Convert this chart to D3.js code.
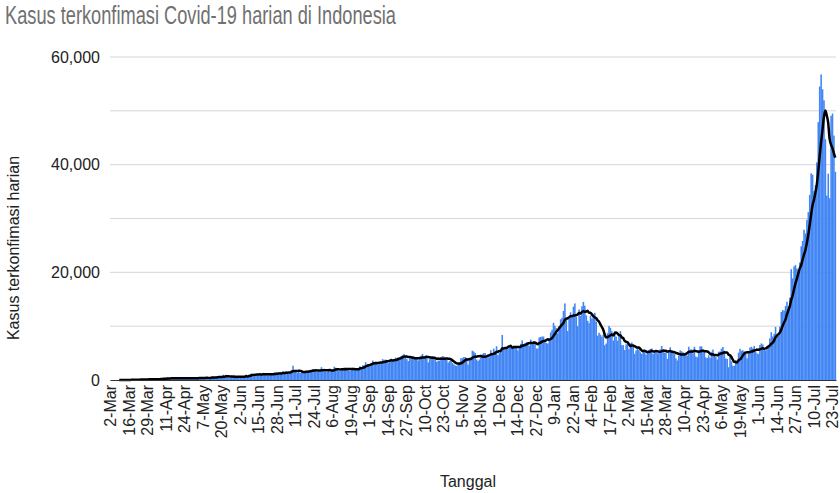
<!DOCTYPE html>
<html><head><meta charset="utf-8">
<script src="https://cdn.jsdelivr.net/npm/d3@7"></script>
<style>
html,body{margin:0;padding:0;background:#fff;}
svg{display:block;font-family:"Liberation Sans",Arial,sans-serif;}
</style></head>
<body><div id="chart"></div>
<script>
// Daily confirmed cases, 2 Mar 2020 – 25 Jul 2021 (one early-March date absent in source table)
const mar2020 = [2,0,0,0,2,0,2,13,8,7,35,27,21,17,38,55,82,60,81,64,65,107,104,103,153,109,130,129,114];
const apr2020 = [149,113,196,106,181,218,247,218,337,219,330,399,316,282,297,380,407,325,327,185,375,283,357,436,396,275,214,415,260,347];
const may2020 = [433,292,349,395,484,367,338,336,533,387,233,484,689,568,490,529,489,496,486,693,973,634,949,526,479,415,686,687,678,557,700];
const jun2020 = [467,609,684,585,703,993,672,847,1043,1241,979,1111,1014,857,1017,1106,1031,1331,1041,1226,862,954,1051,1113,1178,1385,1385,1198,1082,1293];
const jul2020 = [1048,1624,1447,1607,1447,1209,1268,1853,2657,1611,1671,1282,1591,1282,1522,1574,1462,1752,1639,1693,1655,1882,2040,1761,1868,1492,1525,1748,2381,1904,2040];
const aug2020 = [1560,1519,1679,1922,1815,1882,2473,2277,1893,1687,1693,1942,2098,2307,2345,2081,1821,1673,1902,2266,2197,2037,2079,1877,2549,2306,2719,2719,3308,2858,2743];
const sep2020 = [2775,3075,3622,3269,3444,3128,2880,3046,3307,3861,3737,3806,3636,3141,3507,3963,3635,3891,4168,3989,4176,4071,4465,4634,4823,4494,3874,3509,4002,4284];
const oct2020 = [4174,4317,4007,3992,3622,4056,4538,4850,4094,4497,4497,3267,3906,4127,4411,4301,4105,3373,3602,3602,4267,4432,4369,4070,3732,3222,3520,3565,3143,2897,2696];
const nov2020 = [2618,2973,3356,4065,4065,4262,4262,3880,2853,3779,4173,5444,5272,4998,3807,3535,3807,4265,4792,4998,4998,4360,4442,4192,5534,4917,5828,5418,6267,4617];
const dec2020 = [5092,5533,8369,5803,6027,6089,5754,6058,6310,6033,6388,6310,6189,5489,6120,6725,7354,6689,6848,6982,6848,6347,7514,6809,7203,6982,5854,5854,7903,8002,8074];
const jan2021 = [8072,7203,6877,6753,7445,8854,9321,10617,10046,9640,8692,10047,11278,11557,12818,14224,11287,9086,11365,12568,11703,13632,14224,11788,9994,13094,11948,13695,14518,13802,12001];
const feb2021 = [10994,10565,11984,11434,12156,12482,10827,8242,8776,8435,8054,8435,6462,6765,8700,10029,9687,9039,7335,9039,8054,7300,8180,9094,6473,6473,5560,6614];
const mar2021 = [6680,5712,6808,6971,6412,4854,5498,6008,5633,5144,4853,5633,5262,4714,5199,5589,5767,5852,4834,5228,5212,4982,4977,5694,6304,5753,5108,5114,3927,5467,6070];
const apr2021 = [5464,5390,4793,4022,3634,4549,5511,5336,5154,5014,4829,4541,6177,5656,5690,4952,6177,4355,4230,5549,6243,6243,5436,5436,4194,4071,4585,4143,5241,5657];
const may2021 = [4512,4281,3807,5251,5285,5814,6133,5427,3982,3922,2385,4608,3448,2633,2642,3680,3480,5080,5797,5426,5523,5296,4988,4007,5014,6001,6174,5868,6326,5190,4941];
const jun2021 = [4824,6486,6797,6594,5874,5519,6051,6294,7725,8892,8083,8569,9868,8189,8161,9944,12624,12990,12906,13737,14536,13668,15308,20574,18872,21095,21342,20694,20467,21807];
const jul2021 = [24836,25830,27913,27233,29745,31189,34379,38391,38124,35094,36197,40427,47899,54517,56757,54000,51952,44721,34257,38325,33772,49071,49509,45416,38679];

// x tick labels, one every 13 categories
const tickLabels = ["2-Mar","16-Mar","29-Mar","11-Apr","24-Apr","7-May","20-May","2-Jun","15-Jun","28-Jun","11-Jul","24-Jul","6-Aug","19-Aug","1-Sep","14-Sep","27-Sep","10-Oct","23-Oct","5-Nov","18-Nov","1-Dec","14-Dec","27-Dec","9-Jan","22-Jan","4-Feb","17-Feb","2-Mar","15-Mar","28-Mar","10-Apr","23-Apr","6-May","19-May","1-Jun","14-Jun","27-Jun","10-Jul","23-Jul"];
const yTicks = [0,20000,40000,60000];
const yGrid = [10000,20000,30000,40000,50000,60000];

const cases = [].concat(mar2020,apr2020,may2020,jun2020,jul2020,aug2020,sep2020,oct2020,nov2020,dec2020,jan2021,feb2021,mar2021,apr2021,may2021,jun2021,jul2021);
// 7-day moving average trendline
const ma = cases.map((v,i)=> i<6 ? null : d3.mean(cases.slice(i-6,i+1)));

const W=840,H=493, L=110, R=836, T=57, B=380;
const svg = d3.select("#chart").append("svg").attr("width",W).attr("height",H);

const x = d3.scaleBand().domain(d3.range(cases.length)).range([L,R]).padding(0);
const y = d3.scaleLinear().domain([0,60000]).range([B,T]);

// title
svg.append("text").attr("x",5).attr("y",24).attr("font-size",25).attr("fill","#707070")
  .attr("textLength",391).attr("lengthAdjust","spacingAndGlyphs")
  .text("Kasus terkonfimasi Covid-19 harian di Indonesia");

// grid
svg.append("g").selectAll("line").data(yGrid).join("line")
  .attr("x1",L).attr("x2",R).attr("y1",d=>y(d)).attr("y2",d=>y(d))
  .attr("stroke","#d6d6d6").attr("stroke-width",1);

// y axis labels
const yAxis = d3.axisLeft(y).tickValues(yTicks).tickFormat(d3.format(",")).tickSize(0).tickPadding(10);
const gy = svg.append("g").attr("transform",`translate(${L},0)`).call(yAxis);
gy.select(".domain").remove();
gy.selectAll("text").attr("font-size",16).attr("fill","#222").attr("font-family","Liberation Sans, Arial, sans-serif");

// bars
svg.append("g").selectAll("rect").data(cases).join("rect")
  .attr("x",(d,i)=>x(i)).attr("width",x.bandwidth()+0.15)
  .attr("y",d=>y(d)).attr("height",d=>B-y(d))
  .attr("fill","#4285f4");

// moving average line
const line = d3.line().defined(d=>d!==null).x((d,i)=>x(i)+x.bandwidth()/2).y(d=>y(d)).curve(d3.curveMonotoneX);
svg.append("path").datum(ma).attr("d",line).attr("fill","none").attr("stroke","#000").attr("stroke-width",2.5).attr("stroke-linejoin","round");

// x axis
const tickIdx = tickLabels.map((t,i)=>i*13);
const xAxis = d3.axisBottom(x).tickValues(tickIdx).tickFormat((d,i)=>tickLabels[i]).tickSize(0).tickPadding(0);
const gx = svg.append("g").attr("transform",`translate(0,${B})`).call(xAxis);
gx.select(".domain").attr("stroke","#333").attr("stroke-width",1.2);
gx.selectAll("text").attr("font-size",16).attr("fill","#222").attr("font-family","Liberation Sans, Arial, sans-serif")
  .attr("text-anchor","end").attr("transform","translate(0,5) rotate(-90)").attr("x",0).attr("y",0).attr("dy","0.35em");

// axis titles
svg.append("text").attr("transform",`translate(19,248) rotate(-90)`).attr("text-anchor","middle")
  .attr("font-size",16).attr("fill","#222").text("Kasus terkonfimasi harian");
svg.append("text").attr("x",468).attr("y",487).attr("text-anchor","middle")
  .attr("font-size",16).attr("fill","#222").text("Tanggal");
</script></body></html>
